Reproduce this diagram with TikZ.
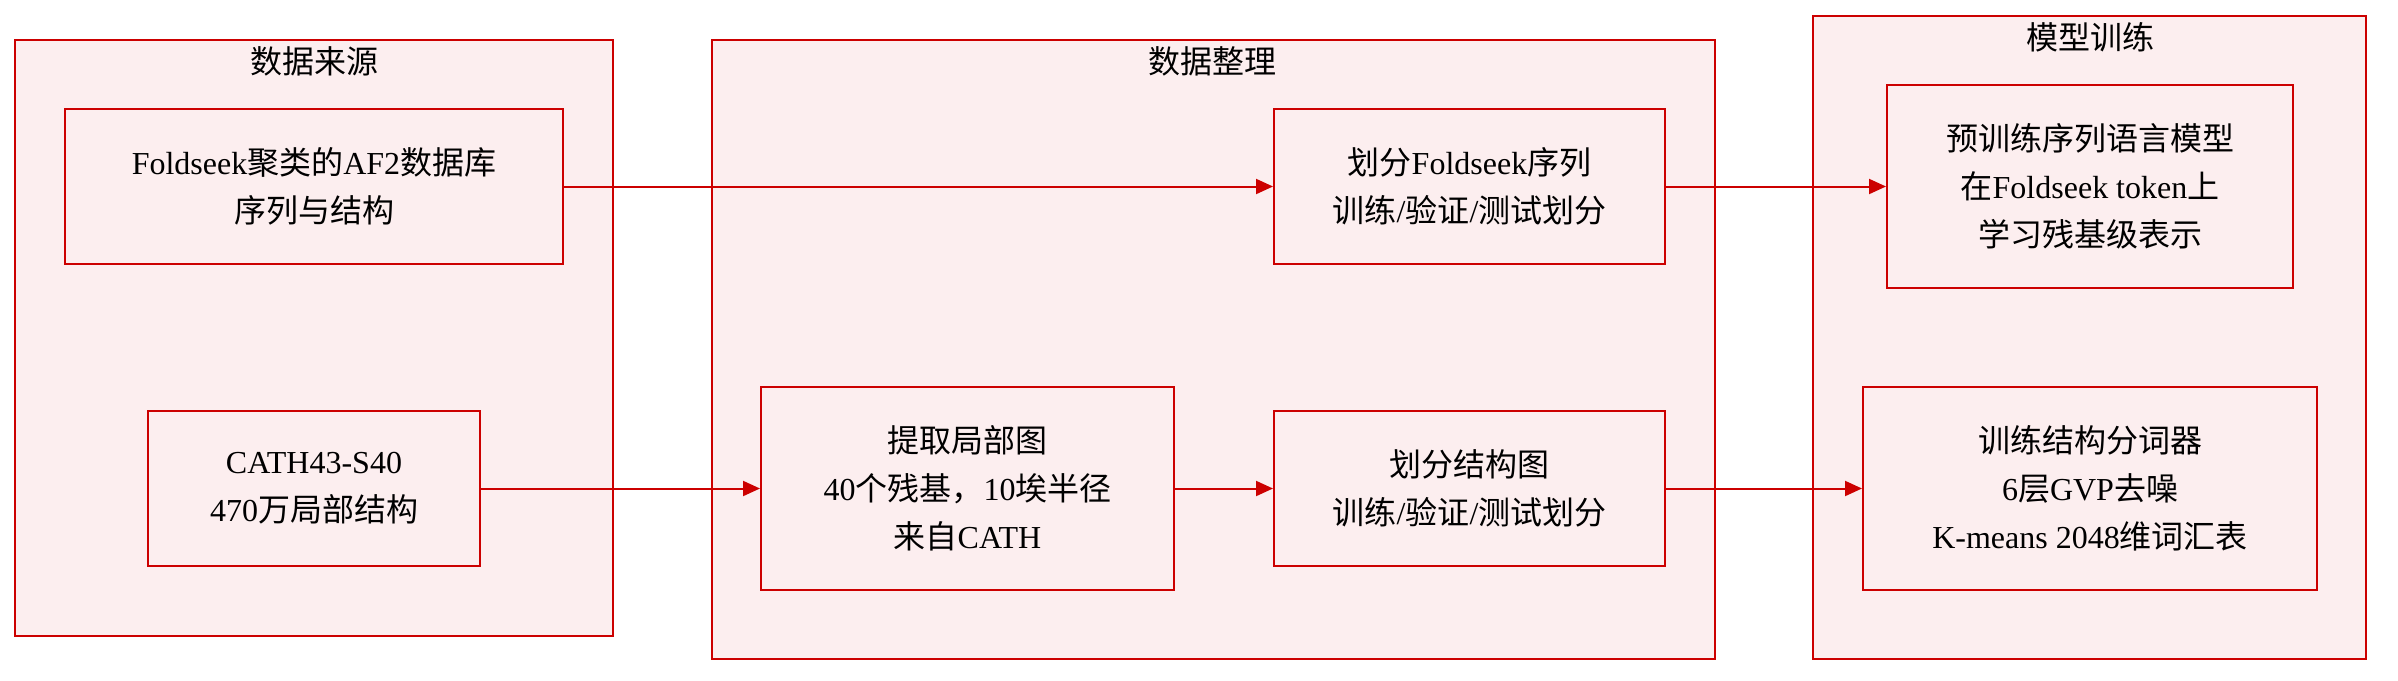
\documentclass[tikz,border=0pt]{standalone}
\usepackage{fontspec}
\setmainfont{Liberation Serif}
\newfontfamily\cjk{Noto Sans CJK SC}
\newcommand{\zh}[1]{{\cjk #1}}
\usetikzlibrary{arrows.meta}
\definecolor{boxred}{HTML}{CC0000}
\definecolor{boxfill}{HTML}{FCEEEF}
\begin{document}
\begin{tikzpicture}[x=0.5pt,y=-0.5pt,
  cluster/.style={draw=boxred,fill=boxfill,line width=1pt,inner sep=0pt},
  stepbox/.style={draw=boxred,fill=boxfill,line width=1pt,align=center,inner sep=0pt,
    font=\fontsize{16}{24}\selectfont},
  ctitle/.style={inner sep=0pt,font=\fontsize{16}{24}\selectfont},
  conn/.style={draw=boxred,line width=1pt,-{Triangle[length=8.5pt,width=7.5pt]}}]
\useasboundingbox (0,0) rectangle (2398,680);
% clusters
\node[cluster,minimum width=299pt,minimum height=298pt] (s1) at (314,338) {};
\node[cluster,minimum width=501.5pt,minimum height=309.5pt] (s2) at (1213.5,349.5) {};
\node[cluster,minimum width=276.5pt,minimum height=321.5pt] (s3) at (2089.5,337.5) {};
\node[ctitle] (t1) at (314,61) {\zh{数据来源}};
\node[ctitle] (t2) at (1212,61) {\zh{数据整理}};
\node[ctitle] (t3) at (2090,37) {\zh{模型训练}};
% nodes
\node[stepbox,minimum width=249pt,minimum height=77.5pt] (a) at (314,186.5)
  {Foldseek\zh{聚类的}AF2\zh{数据库}\\\zh{序列与结构}};
\node[stepbox,minimum width=166pt,minimum height=77.5pt] (b) at (314,488.5)
  {CATH43-S40\\470\zh{万局部结构}};
\node[stepbox,minimum width=195.5pt,minimum height=77.5pt] (c) at (1469.5,186.5)
  {\zh{划分}Foldseek\zh{序列}\\\zh{训练}/\zh{验证}/\zh{测试划分}};
\node[stepbox,minimum width=206.5pt,minimum height=101.5pt] (d) at (967.5,488.5)
  {\zh{提取局部图}\\40\zh{个残基，}10\zh{埃半径}\\\zh{来自}CATH};
\node[stepbox,minimum width=195.5pt,minimum height=77.5pt] (e) at (1469.5,488.5)
  {\zh{划分结构图}\\\zh{训练}/\zh{验证}/\zh{测试划分}};
\node[stepbox,minimum width=203pt,minimum height=101.5pt] (f) at (2090,186.5)
  {\zh{预训练序列语言模型}\\\zh{在}Foldseek token\zh{上}\\\zh{学习残基级表示}};
\node[stepbox,minimum width=227pt,minimum height=101.5pt] (g) at (2090,488.5)
  {\zh{训练结构分词器}\\6\zh{层}GVP\zh{去噪}\\K-means 2048\zh{维词汇表}};
% connectors
\draw[conn] (a) -- (c);
\draw[conn] (c) -- (f);
\draw[conn] (b) -- (d);
\draw[conn] (d) -- (e);
\draw[conn] (e) -- (g);
\end{tikzpicture}
\end{document}
